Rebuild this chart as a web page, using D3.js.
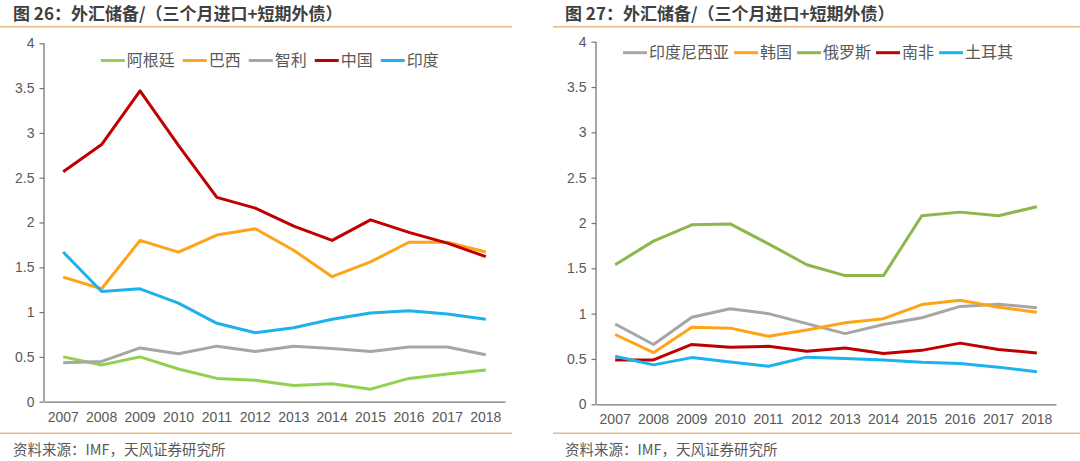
<!DOCTYPE html>
<html><head><meta charset="utf-8">
<script src="https://cdn.jsdelivr.net/npm/d3@7"></script>
<style>
html,body{margin:0;padding:0;background:#fff;}
svg{display:block;}
</style></head>
<body>
<svg id="c" width="1080" height="461"></svg>
<script>
const years = ["2007","2008","2009","2010","2011","2012","2013","2014","2015","2016","2017","2018"];
const yTicks = [0, 0.5, 1, 1.5, 2, 2.5, 3, 3.5, 4];

// Chart 26
const argentina = [0.50,0.41,0.50,0.365,0.26,0.24,0.18,0.20,0.14,0.26,0.31,0.355];
const brazil    = [1.39,1.26,1.80,1.67,1.86,1.93,1.69,1.395,1.56,1.78,1.78,1.67];
const chile     = [0.435,0.45,0.60,0.535,0.62,0.56,0.62,0.595,0.56,0.61,0.61,0.525];
const china     = [2.567,2.87,3.47,2.86,2.28,2.16,1.96,1.80,2.03,1.89,1.77,1.62];
const india     = [1.67,1.23,1.26,1.10,0.875,0.77,0.826,0.92,0.99,1.015,0.98,0.92];

// Chart 27
const indonesia   = [0.886,0.66,0.96,1.055,1.00,0.89,0.78,0.88,0.955,1.08,1.105,1.065];
const korea       = [0.77,0.57,0.85,0.84,0.75,0.82,0.90,0.945,1.10,1.147,1.07,1.015];
const russia      = [1.54,1.80,1.98,1.99,1.77,1.54,1.42,1.42,2.08,2.12,2.08,2.18];
const southAfrica = [0.49,0.49,0.66,0.63,0.64,0.585,0.62,0.56,0.595,0.675,0.605,0.565];
const turkey      = [0.53,0.435,0.515,0.467,0.42,0.52,0.505,0.49,0.465,0.45,0.41,0.36];

const titles = ["图 26：外汇储备/（三个月进口+短期外债）", "图 27：外汇储备/（三个月进口+短期外债）"];
const sourceText = "资料来源：IMF，天风证券研究所";

const GREEN = "#92D050", ORANGE = "#FFA319", GRAY = "#A6A6A6", RED = "#C00000", BLUE = "#1CB2EC";
const RGREEN = "#8DB64C";

const charts = [
  {
    title: titles[0], titleX: 13, ruleX0: 0, ruleX1: 512, srcX: 13,
    x0: 44, x1: 505, yTop: 43.3, yBot: 401.7, legendX: 100.7, legendY: 60.5, legendGap: 8,
    series: [
      {name:"阿根廷", values: argentina, color: GREEN},
      {name:"巴西", values: brazil, color: ORANGE},
      {name:"智利", values: chile, color: GRAY},
      {name:"中国", values: china, color: RED},
      {name:"印度", values: india, color: BLUE}
    ]
  },
  {
    title: titles[1], titleX: 565, ruleX0: 553, ruleX1: 1080, srcX: 565,
    x0: 596, x1: 1056, yTop: 41.7, yBot: 404.3, legendX: 623, legendY: 52.7, legendGap: 5,
    series: [
      {name:"印度尼西亚", values: indonesia, color: GRAY},
      {name:"韩国", values: korea, color: ORANGE},
      {name:"俄罗斯", values: russia, color: RGREEN},
      {name:"南非", values: southAfrica, color: RED},
      {name:"土耳其", values: turkey, color: BLUE}
    ]
  }
];

const svg = d3.select("#c");
const AXIS = "#767676", TEXT = "#595959";
const numFont = "'Liberation Sans', Arial, sans-serif";
const cjkFont = "'Noto Sans CJK SC', 'Noto Sans', sans-serif";

charts.forEach(cfg => {
  const g = svg.append("g");
  // title
  g.append("text").attr("x", cfg.titleX).attr("y", 20)
    .attr("font-family", cjkFont).attr("font-weight", "bold").attr("font-size", 17)
    .attr("fill", "#404040").text(cfg.title);
  // rules
  [26.7, 433.3].forEach(yy => {
    g.append("line").attr("x1", cfg.ruleX0).attr("x2", cfg.ruleX1).attr("y1", yy).attr("y2", yy)
      .attr("stroke", "#E9B98A").attr("stroke-width", 1.6);
  });
  // source
  g.append("text").attr("x", cfg.srcX).attr("y", 455)
    .attr("font-family", cjkFont).attr("font-size", 14.5).attr("fill", TEXT).text(sourceText);

  const x = d3.scaleBand().domain(years).range([cfg.x0, cfg.x1]);
  const y = d3.scaleLinear().domain([0, 4]).range([cfg.yBot, cfg.yTop]);

  // y axis
  const ya = g.append("g").attr("transform", `translate(${cfg.x0},0)`)
    .call(d3.axisLeft(y).tickValues(yTicks).tickSize(4.5).tickPadding(5).tickFormat(d => String(d)));
  ya.select(".domain").attr("stroke", AXIS).attr("stroke-width", 1.3).attr("d", `M0,${cfg.yTop}V${cfg.yBot}`);
  ya.selectAll(".tick line").attr("stroke", AXIS).attr("stroke-width", 1.2);
  ya.selectAll(".tick text").attr("font-family", numFont).attr("font-size", 14).attr("fill", TEXT);

  // x axis
  const xa = g.append("g").attr("transform", `translate(0,${cfg.yBot})`)
    .call(d3.axisBottom(x).tickSize(0).tickPadding(10));
  xa.select(".domain").attr("stroke", AXIS).attr("stroke-width", 1.3);
  xa.selectAll(".tick text").attr("font-family", numFont).attr("font-size", 14).attr("fill", TEXT);

  const line = d3.line().x((d, i) => x(years[i]) + x.bandwidth() / 2).y(d => y(d));
  cfg.series.forEach(s => {
    g.append("path").datum(s.values).attr("d", line).attr("fill", "none")
      .attr("stroke", s.color).attr("stroke-width", 3).attr("stroke-linejoin", "round");
  });

  // legend
  let lx = cfg.legendX;
  cfg.series.forEach(s => {
    g.append("line").attr("x1", lx).attr("x2", lx + 24).attr("y1", cfg.legendY).attr("y2", cfg.legendY)
      .attr("stroke", s.color).attr("stroke-width", 3);
    const t = g.append("text").attr("x", lx + 26).attr("y", cfg.legendY + 5.5)
      .attr("font-family", cjkFont).attr("font-size", 16).attr("fill", TEXT).text(s.name);
    lx += 26 + t.node().getComputedTextLength() + cfg.legendGap;
  });
});
</script>
</body></html>
